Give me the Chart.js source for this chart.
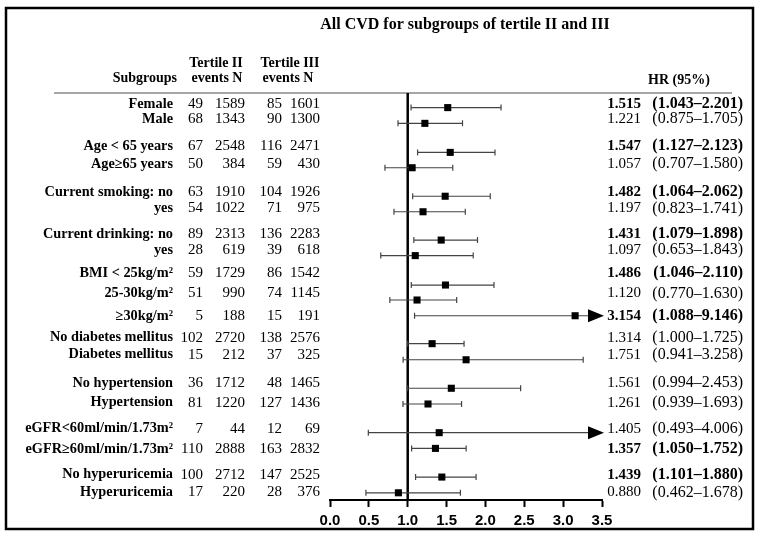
<!DOCTYPE html>
<html>
<head>
<meta charset="utf-8">
<script src="https://cdn.jsdelivr.net/npm/chart.js@4.4.0/dist/chart.umd.min.js"></script>
<style>
  html, body { margin: 0; padding: 0; background: #fff; }
  canvas { display: block; }
</style>
</head>
<body>
<canvas id="forestChart" width="761" height="542"></canvas>
<script>
// Subgroup rows
const subgroups = [
    'Female', 'Male',
    'Age < 65 years', 'Age\u226565 years',
    'Current smoking: no', 'yes',
    'Current drinking: no', 'yes',
    'BMI < 25kg/m\u00b2', '25-30kg/m\u00b2', '\u226530kg/m\u00b2',
    'No diabetes mellitus', 'Diabetes mellitus',
    'No hypertension', 'Hypertension',
    'eGFR<60ml/min/1.73m\u00b2', 'eGFR\u226560ml/min/1.73m\u00b2',
    'No hyperuricemia', 'Hyperuricemia'
];
const eventsII  = [49, 68, 67, 50, 63, 54, 89, 28, 59, 51, 5, 102, 15, 36, 81, 7, 110, 100, 17];
const totalII   = [1589, 1343, 2548, 384, 1910, 1022, 2313, 619, 1729, 990, 188, 2720, 212, 1712, 1220, 44, 2888, 2712, 220];
const eventsIII = [85, 90, 116, 59, 104, 71, 136, 39, 86, 74, 15, 138, 37, 48, 127, 12, 163, 147, 28];
const totalIII  = [1601, 1300, 2471, 430, 1926, 975, 2283, 618, 1542, 1145, 191, 2576, 325, 1465, 1436, 69, 2832, 2525, 376];

// Hazard ratios and 95% CI
const hr    = [1.515, 1.221, 1.547, 1.057, 1.482, 1.197, 1.431, 1.097, 1.486, 1.120, 3.154, 1.314, 1.751, 1.561, 1.261, 1.405, 1.357, 1.439, 0.880];
const lower = [1.043, 0.875, 1.127, 0.707, 1.064, 0.823, 1.079, 0.653, 1.046, 0.770, 1.088, 1.000, 0.941, 0.994, 0.939, 0.493, 1.050, 1.101, 0.462];
const upper = [2.201, 1.705, 2.123, 1.580, 2.062, 1.741, 1.898, 1.843, 2.110, 1.630, 9.146, 1.725, 3.258, 2.453, 1.693, 4.006, 1.752, 1.880, 1.678];
const significant = [true, false, true, false, true, false, true, false, true, false, true, false, false, false, false, false, true, true, false];

// Row positions (top down): text rows and marker rows
const labelRows = [0.59, 1.41, 2.86, 3.84, 5.35, 6.24, 7.62, 8.49, 9.73, 10.84, 12.05, 13.23, 14.15, 15.69, 16.74, 18.15, 19.24, 20.63, 21.59];
const markRows  = [0.79, 1.64, 3.21, 4.04, 5.58, 6.42, 7.95, 8.79, 10.38, 11.19, 12.04, 13.55, 14.42, 15.96, 16.81, 18.36, 19.21, 20.76, 21.61];

const xMin = 0, xMax = 3.5, xStep = 0.5;
const refValue = 1.0;
const titleText = 'All CVD for subgroups of tertile II and III';

const SERIF = '"Liberation Serif", "Times New Roman", serif';

function fmt(v) { return v.toFixed(3); }

const forestPlugin = {
    id: 'forest',
    beforeDatasetsDraw(chart) {
        const { ctx, chartArea, scales } = chart;
        const x = scales.x, y = scales.y;
        ctx.save();

        // header separator
        ctx.strokeStyle = '#888';
        ctx.lineWidth = 1.5;
        ctx.beginPath();
        ctx.moveTo(54, chartArea.top);
        ctx.lineTo(732, chartArea.top);
        ctx.stroke();

        // reference line at HR = 1
        const xr = x.getPixelForValue(refValue);
        ctx.strokeStyle = '#000';
        ctx.lineWidth = 2.5;
        ctx.beginPath();
        ctx.moveTo(xr, chartArea.top);
        ctx.lineTo(xr, chartArea.bottom);
        ctx.stroke();

        // confidence intervals
        hr.forEach((v, i) => {
            const yp = y.getPixelForValue(markRows[i]);
            const x1 = x.getPixelForValue(lower[i]);
            const clipped = upper[i] > xMax;
            const x2 = x.getPixelForValue(Math.min(upper[i], xMax));
            ctx.strokeStyle = '#444';
            ctx.lineWidth = 1.2;
            ctx.beginPath();
            ctx.moveTo(x1, yp);
            ctx.lineTo(clipped ? x2 - 14 : x2, yp);
            ctx.moveTo(x1, yp - 3);
            ctx.lineTo(x1, yp + 3);
            if (!clipped) {
                ctx.moveTo(x2, yp - 3);
                ctx.lineTo(x2, yp + 3);
            }
            ctx.stroke();
            if (clipped) {
                ctx.fillStyle = '#000';
                ctx.beginPath();
                ctx.moveTo(x2 + 2, yp);
                ctx.lineTo(x2 - 14, yp - 6.5);
                ctx.lineTo(x2 - 14, yp + 6.5);
                ctx.closePath();
                ctx.fill();
            }
        });
        ctx.restore();
    },
    afterDraw(chart) {
        const { ctx, scales } = chart;
        const y = scales.y;
        ctx.save();

        // outer frame
        ctx.strokeStyle = '#000';
        ctx.lineWidth = 2.5;
        ctx.strokeRect(6, 8, 747, 521);

        ctx.fillStyle = '#000';
        ctx.textBaseline = 'middle';

        // title
        ctx.font = 'bold 16px ' + SERIF;
        ctx.textAlign = 'center';
        ctx.fillText(titleText, 465, 25);

        // column headers
        ctx.font = 'bold 14px ' + SERIF;
        ctx.fillText('Tertile II', 216, 63);
        ctx.fillText('events N', 217, 78);
        ctx.fillText('Tertile III', 290, 63);
        ctx.fillText('events N', 288, 78);
        ctx.textAlign = 'right';
        ctx.fillText('Subgroups', 177, 78);
        ctx.textAlign = 'left';
        ctx.fillText('HR (95%)', 648, 80);

        subgroups.forEach((name, i) => {
            const yp = y.getPixelForValue(labelRows[i]);
            ctx.textAlign = 'right';
            ctx.font = 'bold 14.3px ' + SERIF;
            ctx.fillText(name, 173, yp);
            ctx.font = '15px ' + SERIF;
            ctx.fillText(String(eventsII[i]), 203, yp);
            ctx.fillText(String(totalII[i]), 245, yp);
            ctx.fillText(String(eventsIII[i]), 282, yp);
            ctx.fillText(String(totalIII[i]), 320, yp);

            ctx.font = (significant[i] ? 'bold ' : '') + '15px ' + SERIF;
            ctx.fillText(fmt(hr[i]), 641, yp);
            ctx.font = (significant[i] ? 'bold ' : '') + '16px ' + SERIF;
            ctx.fillText('(' + fmt(lower[i]) + '\u2013' + fmt(upper[i]) + ')', 743, yp);
        });
        ctx.restore();
    }
};

const chart = new Chart(document.getElementById('forestChart'), {
    type: 'scatter',
    data: {
        datasets: [{
            data: hr.map((v, i) => ({ x: v, y: markRows[i] })),
            pointStyle: 'rect',
            pointRadius: 5,
            backgroundColor: '#000',
            borderColor: '#000',
            borderWidth: 0,
            clip: false
        }]
    },
    options: {
        responsive: false,
        animation: false,
        layout: { padding: { left: 330, right: 159, top: 93, bottom: 0 } },
        plugins: {
            legend: { display: false },
            tooltip: { enabled: false }
        },
        scales: {
            x: {
                type: 'linear',
                min: xMin,
                max: xMax,
                afterFit: (scale) => { scale.height = 42; },
                ticks: {
                    stepSize: xStep,
                    padding: 5,
                    color: '#000',
                    font: { family: '"Liberation Sans", Arial, sans-serif', size: 15, weight: 'bold' },
                    callback: (v) => Number(v).toFixed(1)
                },
                grid: {
                    drawOnChartArea: false,
                    drawTicks: true,
                    tickLength: 7,
                    tickWidth: 2,
                    tickColor: '#000'
                },
                border: { display: true, color: '#000', width: 2 }
            },
            y: {
                type: 'linear',
                display: false,
                min: 0,
                max: 22,
                reverse: true
            }
        }
    },
    plugins: [forestPlugin]
});
</script>
</body>
</html>
